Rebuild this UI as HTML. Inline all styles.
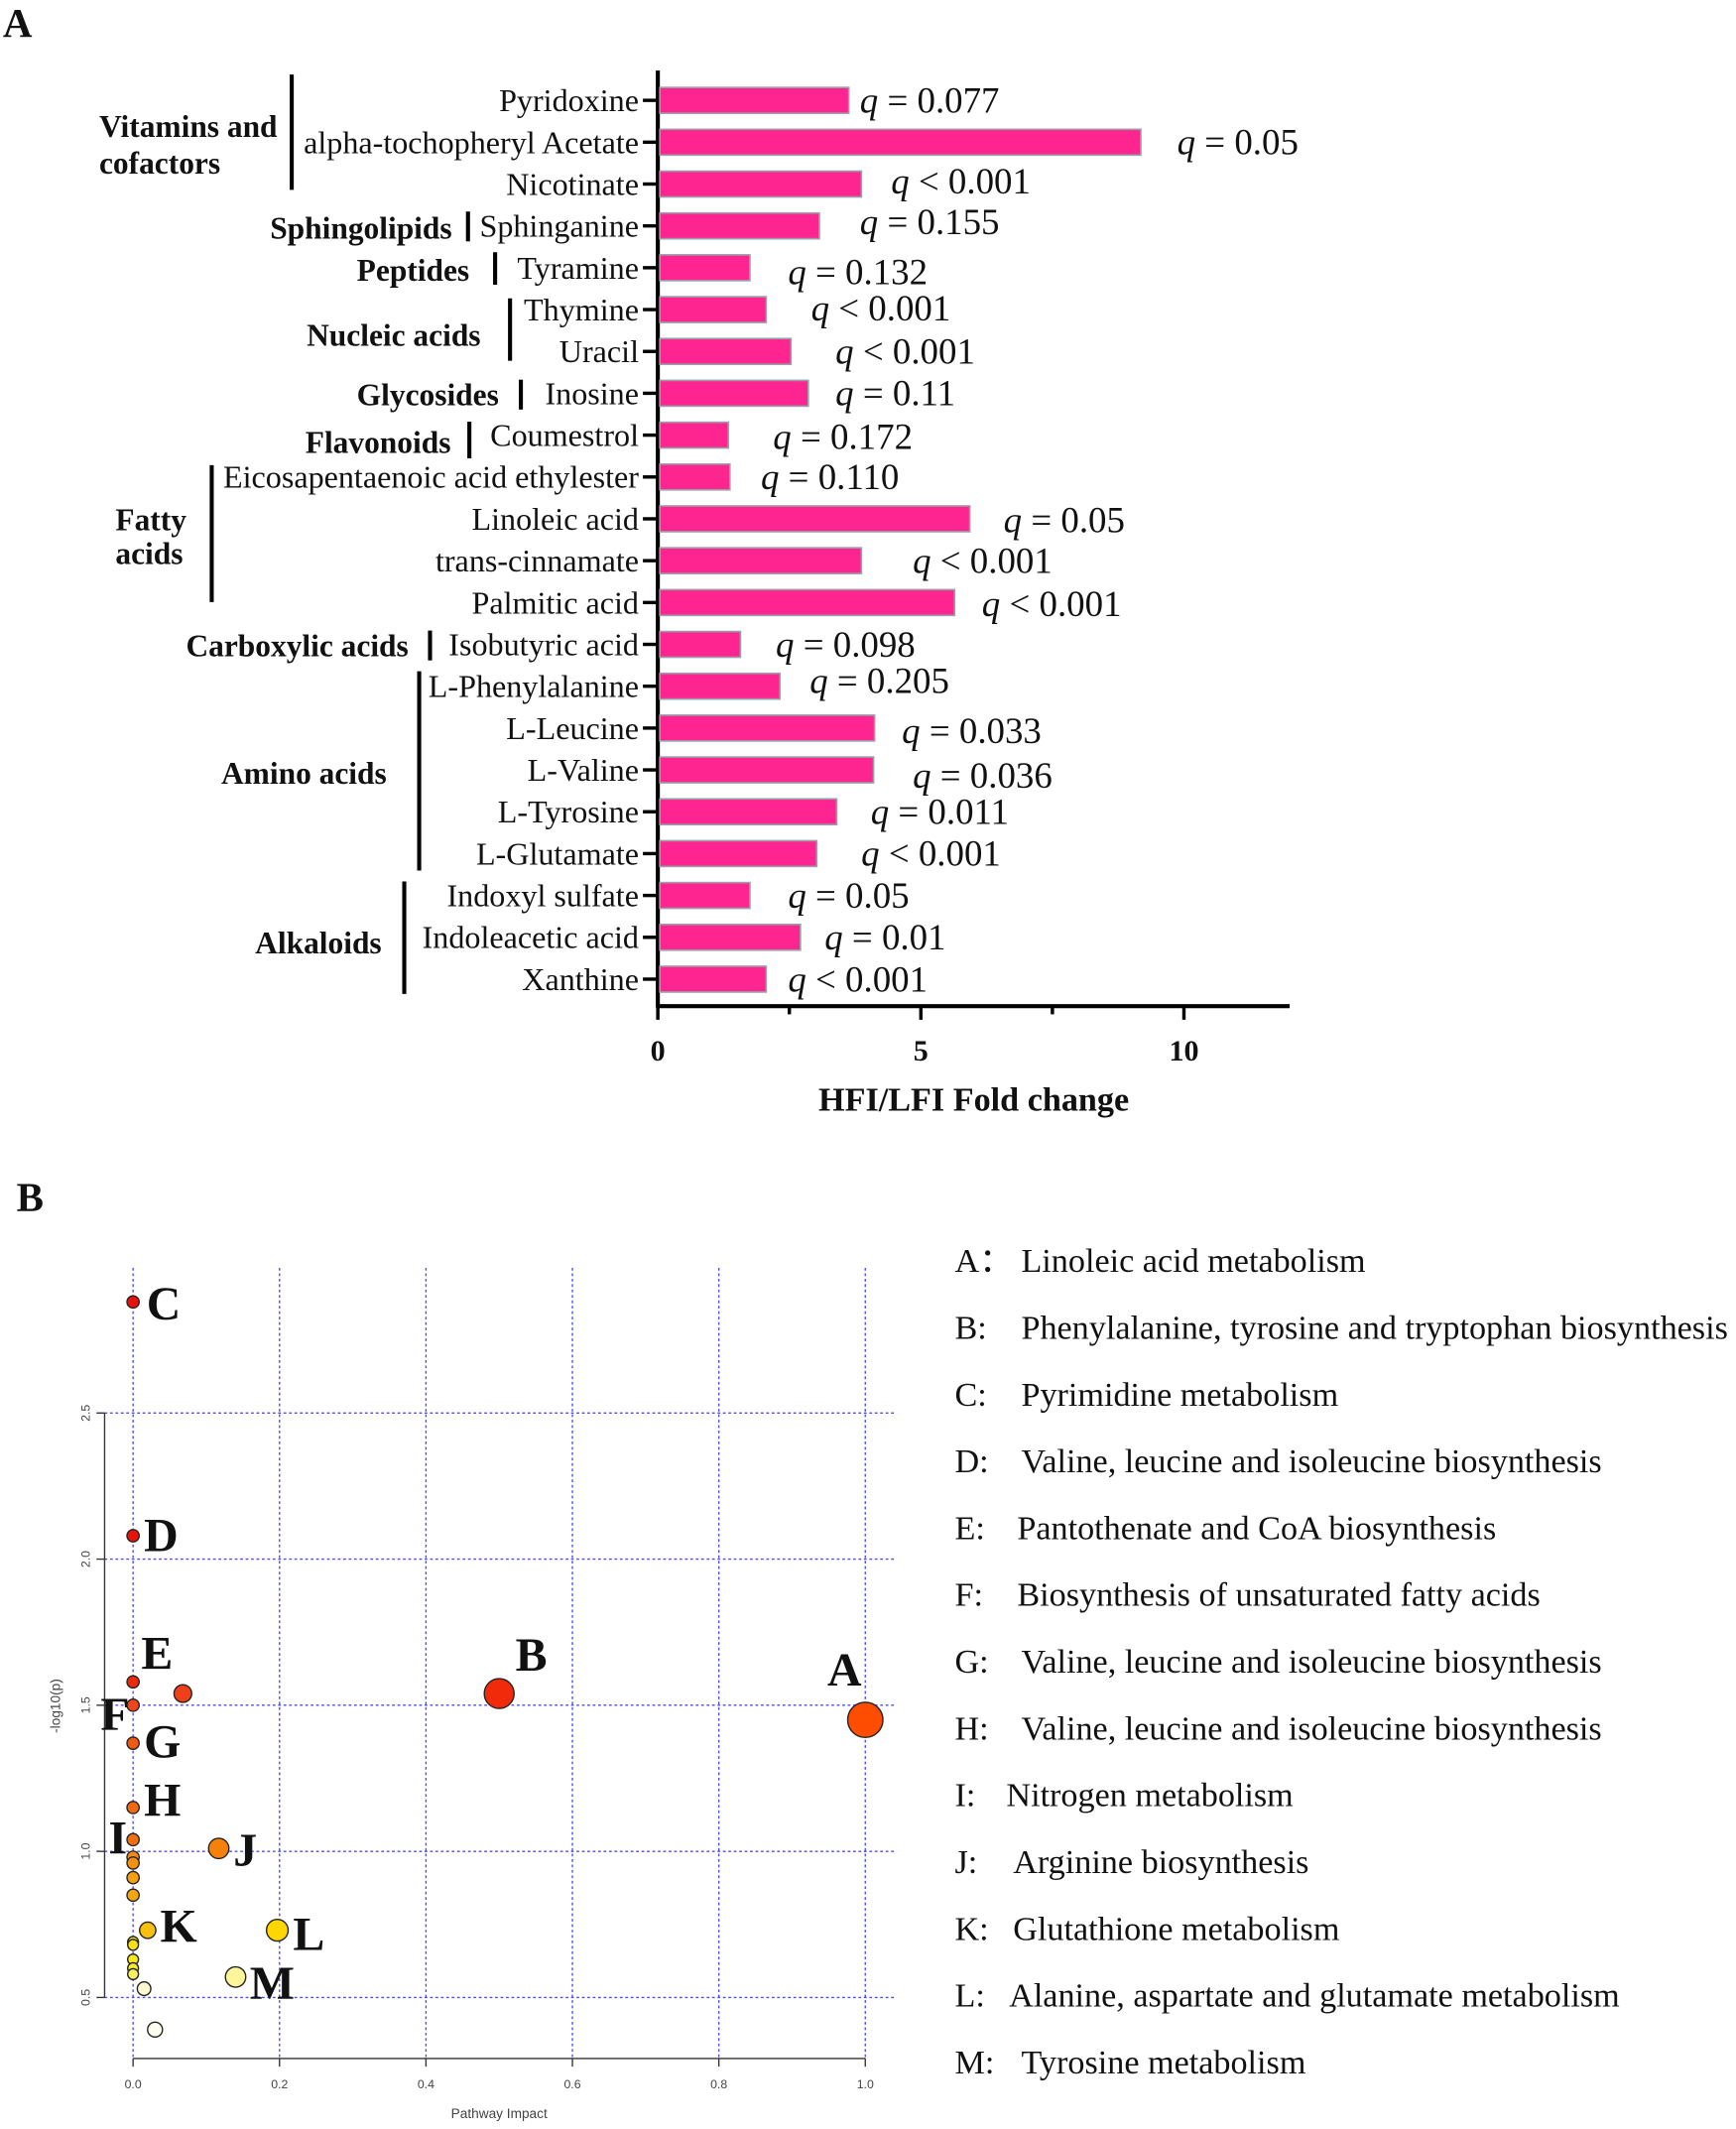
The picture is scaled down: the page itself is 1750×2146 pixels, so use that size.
<!DOCTYPE html>
<html><head><meta charset="utf-8"><style>
html,body{margin:0;padding:0;background:#fff;}
svg{display:block;}
text{font-family:"Liberation Serif",serif;fill:#111;}
.lbl{font-size:23.5px;}
.grp{font-size:23px;font-weight:bold;}
.q{font-size:27px;}
.sans{font-family:"Liberation Sans",sans-serif;fill:#444;}
.leg{font-size:25px;}
.pt{font-size:35px;font-weight:bold;}
</style></head><body>
<svg id="fig" width="1750" height="2146" viewBox="0 0 1280 1570" xmlns="http://www.w3.org/2000/svg">
<text x="2" y="27" style="font-size:30px;font-weight:bold">A</text>
<g id="panelA"></g>
<text x="12" y="893" style="font-size:30px;font-weight:bold">B</text>
<g id="panelB"></g>
<g id="legendB"></g>
</svg>
<script>
const metabolites=["Pyridoxine","alpha-tochopheryl Acetate","Nicotinate","Sphinganine","Tyramine","Thymine","Uracil","Inosine","Coumestrol","Eicosapentaenoic acid ethylester","Linoleic acid","trans-cinnamate","Palmitic acid","Isobutyric acid","L-Phenylalanine","L-Leucine","L-Valine","L-Tyrosine","L-Glutamate","Indoxyl sulfate","Indoleacetic acid","Xanthine"];
const foldChange=[3.63,9.18,3.87,3.07,1.75,2.06,2.53,2.86,1.34,1.37,5.93,3.87,5.64,1.57,2.32,4.12,4.10,3.40,3.02,1.75,2.71,2.06];
const qText=["= 0.077","= 0.05","< 0.001","= 0.155","= 0.132","< 0.001","< 0.001","= 0.11","= 0.172","= 0.110","= 0.05","< 0.001","< 0.001","= 0.098","= 0.205","= 0.033","= 0.036","= 0.011","< 0.001","= 0.05","= 0.01","< 0.001"];
const xTicksA=[0,5,10];
const pathCats=["A","B","C","D","E","F","G","H","I","J","K","L","M"];
const pathNames=["Linoleic acid metabolism","Phenylalanine, tyrosine and tryptophan biosynthesis","Pyrimidine metabolism","Valine, leucine and isoleucine biosynthesis","Pantothenate and CoA biosynthesis","Biosynthesis of unsaturated fatty acids","Valine, leucine and isoleucine biosynthesis","Valine, leucine and isoleucine biosynthesis","Nitrogen metabolism","Arginine biosynthesis","Glutathione metabolism","Alanine, aspartate and glutamate metabolism","Tyrosine metabolism"];
const impact=[0,0,0,0.068,0,0,0,0,0,0,0,0,0.117,0.02,0,0,0,0,0,0.197,0.14,0.015,0.03,0.5,1.0];
const logP=[2.88,2.08,1.58,1.54,1.50,1.37,1.15,1.04,0.98,0.96,0.91,0.85,1.01,0.73,0.69,0.68,0.63,0.60,0.58,0.73,0.57,0.53,0.39,1.54,1.45];
const radius=[4.5,4.5,4.5,6.5,4.5,4.5,4.5,4.5,4.5,4.5,4.5,4.5,7.5,6,4,4,4,4,4,8,7.5,5,5.5,11,13];
const colors=["#e8120a","#e8140a","#ea2a0a","#f0401a","#f0441a","#f05a10","#f06810","#f07010","#f58a10","#f59010","#f5a010","#f5a510","#f5800a","#f5c010","#f5dc10","#f5e010","#f8e820","#f8ec30","#f8f060","#ffd700","#fff59a","#fffad0","#fffff0","#f02a0a","#ff4d00"];
const xTicksB=[0,0.2,0.4,0.6,0.8,1.0];
const yTicksB=[0.5,1.0,1.5,2.0,2.5];

const NS="http://www.w3.org/2000/svg";
function mk(tag,attrs,parent,txt){const e=document.createElementNS(NS,tag);for(const k in attrs)e.setAttribute(k,attrs[k]);if(txt!==undefined)e.textContent=txt;parent.appendChild(e);return e;}

// Panel A
const A=document.getElementById('panelA');
const ax=v=>485+v*38.8;
const ay=i=>74+i*30.86;
mk('line',{x1:485,y1:52,x2:485,y2:743,stroke:'#000','stroke-width':3},A);
mk('line',{x1:484,y1:742,x2:951,y2:742,stroke:'#000','stroke-width':3},A);
[0,2.5,5,7.5,10].forEach(v=>{mk('line',{x1:ax(v),y1:742,x2:ax(v),y2:v%5===0?752:748,stroke:'#000','stroke-width':2.5},A);});
xTicksA.forEach(v=>{const t=mk('text',{x:ax(v),y:782,'text-anchor':'middle',style:'font-size:22px;font-weight:bold'},A,String(v));

});
const xt=mk('text',{x:718,y:819,'text-anchor':'middle',style:'font-size:25px;font-weight:bold'},A,'HFI/LFI Fold change');


const qx=[634,868,657,634,581,598,616,616,570,561,740,673,724,572,597,665,673,642,635,581,608,581];
const qdy=[0,0,-2,-3,3,-1,0,0,1,0,1,0,1,0,-4,2,4,0,0,0,0,0];
metabolites.forEach((m,i)=>{
 const y=ay(i);
 const b=mk('rect',{x:486.5,y:y-9.5,width:ax(foldChange[i])-486.5,height:19,fill:'#ff2590',stroke:'#9aa0a8','stroke-width':1.2},A);
 
 
 mk('line',{x1:474,y1:y,x2:485,y2:y,stroke:'#000','stroke-width':2.5},A);
 const l=mk('text',{x:471,y:y+8,'text-anchor':'end',class:'lbl'},A,m);
 
 
 const q=mk('text',{x:qx[i],y:y+9+qdy[i],class:'q'},A);
 
 
 mk('tspan',{'font-style':'italic'},q,'q');
 mk('tspan',{},q,' '+qText[i]);
});
// groups
const groups=[
 {lines:["Vitamins and","cofactors"],x:73,y:[101,128],bx:215,b:[55,140]},
 {lines:["Sphingolipids"],x:199,y:[176],bx:345,b:[156,178]},
 {lines:["Peptides"],x:263,y:[207],bx:365,b:[186,210]},
 {lines:["Nucleic acids"],x:226,y:[255],bx:376,b:[220,266]},
 {lines:["Glycosides"],x:263,y:[299],bx:384,b:[280,302]},
 {lines:["Flavonoids"],x:225,y:[334],bx:346,b:[311,338]},
 {lines:["Fatty","acids"],x:85,y:[391,416],bx:156,b:[343,444]},
 {lines:["Carboxylic acids"],x:137,y:[484],bx:317,b:[465,487]},
 {lines:["Amino acids"],x:163,y:[578],bx:309,b:[495,642]},
 {lines:["Alkaloids"],x:188,y:[703],bx:298,b:[650,733]}];
groups.forEach(g=>{
 g.lines.forEach((s,k)=>{const t=mk('text',{x:g.x,y:g.y[k],class:'grp'},A,s);
 
 });
 mk('line',{x1:g.bx,y1:g.b[0],x2:g.bx,y2:g.b[1],stroke:'#000','stroke-width':3},A);
});

// Panel B
const B=document.getElementById('panelB');
const bx=v=>98+v*540;
const by=v=>1473-(v-0.5)*215.5;
xTicksB.forEach(v=>{mk('line',{x1:bx(v),y1:935,x2:bx(v),y2:1518,stroke:'#4a4aff','stroke-width':1,'stroke-dasharray':'2,2'},B);});
yTicksB.forEach(v=>{mk('line',{x1:77,y1:by(v),x2:660,y2:by(v),stroke:'#4a4aff','stroke-width':1,'stroke-dasharray':'2,2'},B);});
mk('line',{x1:77,y1:by(2.5),x2:77,y2:by(0.5),stroke:'#333','stroke-width':1},B);
mk('line',{x1:bx(0),y1:1518,x2:bx(1),y2:1518,stroke:'#333','stroke-width':1},B);
yTicksB.forEach(v=>{mk('line',{x1:71,y1:by(v),x2:77,y2:by(v),stroke:'#333'},B);
 const t=mk('text',{x:0,y:0,class:'sans','font-size':9,'text-anchor':'middle',transform:`translate(66,${by(v)}) rotate(-90)`},B,v.toFixed(1));
 
 });
xTicksB.forEach(v=>{mk('line',{x1:bx(v),y1:1518,x2:bx(v),y2:1524,stroke:'#333'},B);
 const t=mk('text',{x:bx(v),y:1540,class:'sans','font-size':9,'text-anchor':'middle'},B,v.toFixed(1));
 
 });
const xbt=mk('text',{x:368,y:1562,class:'sans','font-size':10,'text-anchor':'middle'},B,'Pathway Impact');


const ybt=mk('text',{x:0,y:0,class:'sans','font-size':10,'text-anchor':'middle',transform:'translate(44,1258) rotate(-90)'},B,'-log10(p)');


impact.forEach((v,i)=>{
 const c=mk('circle',{cx:bx(v),cy:by(logP[i]),r:radius[i],fill:colors[i],stroke:'#222','stroke-width':1},B);
 
 
});
const ptLabels=[["C",108,973],["D",106,1144],["E",104,1231],["F",74,1276],["G",106,1296],["H",106,1339],["I",80,1367],["J",172,1376],["K",118,1432],["L",216,1438],["M",184,1474],["B",380,1232],["A",610,1243]];
ptLabels.forEach(p=>{const t=mk('text',{x:p[1],y:p[2],class:'pt'},B,p[0]);
 
 });

// Legend
const L=document.getElementById('legendB');
const sep=["：",":",":",":",":",":",":",":",":",":",":",":",":"];
pathCats.forEach((c,i)=>{
 const y=938+i*49.25;
 const t=mk('text',{x:704,y:y,class:'leg'},L,c+sep[i]);
 
 
 const n=mk('text',{x:(c==='I'?742:c==='L'?744:c==='J'||c==='K'?747:c==='E'||c==='F'?750:753),y:y,class:'leg'},L,pathNames[i]);
 
 
});
</script>
</body></html>
